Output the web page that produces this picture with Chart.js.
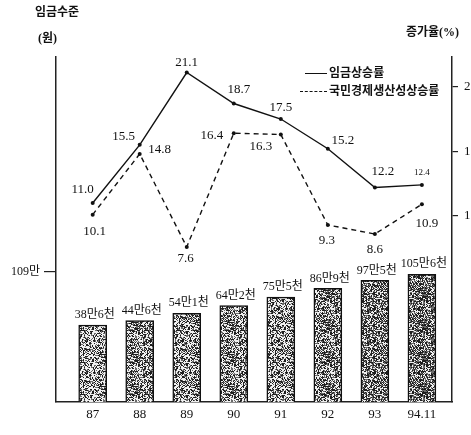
<!DOCTYPE html>
<html>
<head>
<meta charset="utf-8">
<script src="https://cdn.jsdelivr.net/npm/chart.js@4"></script>
<style>
  html, body { margin: 0; padding: 0; overflow: hidden; background: #fff; }
  #wrap { position: relative; width: 480px; height: 435px; }
  .txt { position: absolute; font-family: "Liberation Serif", "Noto Sans CJK KR", serif; color: #111; white-space: nowrap; line-height: 1; }
  .leg-line { position: absolute; height: 0; border-top: 1.5px solid #111; }
</style>
</head>
<body>
<div id="wrap">
  <canvas id="chart" width="480" height="435"></canvas>
  <div class="txt" style="left:35px;top:6px;font-size:12px;font-weight:bold;">임금수준</div>
  <div class="txt" style="left:38px;top:32px;font-size:12px;font-weight:bold;">(원)</div>
  <div class="txt" style="left:406px;top:26px;font-size:12px;font-weight:bold;">증가율(%)</div>
  <div id="legend"></div>
</div>
<script>
// data
var years = ['87', '88', '89', '90', '91', '92', '93', '94.11'];
var wageLevel = [38.6, 44.6, 54.1, 64.2, 75.5, 86.9, 97.5, 105.6]; // 만원
var wageGrowth = [11.0, 15.5, 21.1, 18.7, 17.5, 15.2, 12.2, 12.4];
var productivityGrowth = [10.1, 14.8, 7.6, 16.4, 16.3, 9.3, 8.6, 10.9];
var seriesNames = ['임금상승률', '국민경제생산성상승률'];
var levelTicks = [109];
var growthTicks = [10, 15, 20];

// axis ranges (broken axis in the original)
var levelMin = -63.1, levelMax = 392.6;
var growthMin = -4.4, growthMax = 22.3;

// label placement next to each point [dx, dy]
var wageLabelPos = [[-10, -13], [-16, -8], [0, -10], [5, -14], [0, -11], [15, -8], [8, -16], [0, -12]];
var prodLabelPos = [[2, 17], [20, -4], [-1, 12], [-22, 2], [-20, 12], [-1, 16], [0, 16], [5, 19]];

var FONT = '"Liberation Serif", "Noto Sans CJK KR", serif';

function levelText(v) {
  var man = Math.floor(v);
  var cheon = Math.round((v - man) * 10);
  return man + '만' + cheon + '천';
}

// speckled texture like the scanned bars
function texture(density) {
  var c = document.createElement('canvas');
  c.width = 32; c.height = 32;
  var g = c.getContext('2d');
  g.fillStyle = '#f0f0f0';
  g.fillRect(0, 0, 32, 32);
  for (var y = 0; y < 32; y++) {
    for (var x = 0; x < 32; x++) {
      var h = Math.imul(x + 31, 374761393) ^ Math.imul(y + 17, 668265263);
      h = Math.imul(h ^ (h >>> 13), 1274126177);
      var t = ((h ^ (h >>> 16)) >>> 0) % 1000 / 1000;
      if (t < density) {
        g.fillStyle = t < density * 0.6 ? '#1e1e1e' : '#6a6a6a';
        g.fillRect(x, y, 1, 1);
      }
    }
  }
  return g.createPattern(c, 'repeat');
}
var barDensity = [0.5, 0.58, 0.55, 0.58, 0.55, 0.62, 0.68, 0.7];

// value labels
var valueLabels = {
  id: 'valueLabels',
  afterDatasetsDraw: function(chart) {
    var ctx = chart.ctx;
    ctx.save();
    ctx.fillStyle = '#111';
    ctx.textAlign = 'center';
    ctx.textBaseline = 'middle';

    var bars = chart.getDatasetMeta(0).data;
    ctx.font = '12px ' + FONT;
    bars.forEach(function(el, i) {
      ctx.fillText(levelText(wageLevel[i]), el.x + 2, el.y - 10);
    });

    var wage = chart.getDatasetMeta(1).data;
    wage.forEach(function(el, i) {
      ctx.font = (i === wage.length - 1 ? '9px ' : '13px ') + FONT;
      ctx.fillText(wageGrowth[i].toFixed(1), el.x + wageLabelPos[i][0], el.y + wageLabelPos[i][1]);
    });

    var prod = chart.getDatasetMeta(2).data;
    ctx.font = '13px ' + FONT;
    prod.forEach(function(el, i) {
      ctx.fillText(productivityGrowth[i].toFixed(1), el.x + prodLabelPos[i][0], el.y + prodLabelPos[i][1]);
    });
    ctx.restore();
  }
};

var ctx = document.getElementById('chart').getContext('2d');
var chart = new Chart(ctx, {
  type: 'bar',
  data: {
    datasets: [{
      type: 'bar',
      label: '임금수준',
      data: wageLevel.map(function(v, i) { return { x: i, y: v }; }),
      yAxisID: 'y',
      base: levelMin,
      backgroundColor: barDensity.map(texture),
      borderColor: '#111',
      borderWidth: 1.5,
      barThickness: 28,
      order: 3
    }, {
      type: 'line',
      label: seriesNames[0],
      data: wageGrowth.map(function(v, i) { return { x: i, y: v }; }),
      yAxisID: 'y2',
      borderColor: '#111',
      borderWidth: 1.4,
      pointRadius: 2,
      pointBackgroundColor: '#111',
      pointBorderWidth: 0,
      tension: 0,
      order: 1
    }, {
      type: 'line',
      label: seriesNames[1],
      data: productivityGrowth.map(function(v, i) { return { x: i, y: v }; }),
      yAxisID: 'y2',
      borderColor: '#111',
      borderWidth: 1.4,
      borderDash: [5, 4],
      pointRadius: 2,
      pointBackgroundColor: '#111',
      pointBorderWidth: 0,
      tension: 0,
      order: 2
    }]
  },
  options: {
    responsive: false,
    animation: false,
    devicePixelRatio: 1,
    layout: { padding: { top: 57, left: 0, right: 0, bottom: 0 } },
    plugins: { legend: { display: false }, tooltip: { enabled: false } },
    scales: {
      x: {
        type: 'linear',
        offset: false,
        min: -0.78,
        max: 7.64,
        border: { display: true, color: '#222', width: 1.5 },
        grid: { drawOnChartArea: false, drawTicks: false },
        ticks: {
          color: '#111',
          font: { family: FONT, size: 13 },
          padding: 5,
          callback: function(v) { return years[v]; }
        },
        afterBuildTicks: function(axis) {
          axis.ticks = years.map(function(_, i) { return { value: i }; });
        },
        afterFit: function(scale) { scale.height = 33; }
      },
      y: {
        position: 'left',
        min: levelMin,
        max: levelMax,
        border: { display: true, color: '#222', width: 1.5 },
        grid: { drawOnChartArea: false, drawTicks: true, tickLength: 12, color: '#222', lineWidth: 1.2 },
        ticks: {
          color: '#111',
          font: { family: FONT, size: 12 },
          padding: 4,
          callback: function(v) { return v + '만'; }
        },
        afterBuildTicks: function(axis) {
          axis.ticks = levelTicks.map(function(v) { return { value: v }; });
        },
        afterFit: function(scale) { scale.width = 56; }
      },
      y2: {
        position: 'right',
        min: growthMin,
        max: growthMax,
        border: { display: true, color: '#222', width: 1.5 },
        grid: { drawOnChartArea: false, drawTicks: true, tickLength: 6, color: '#222', lineWidth: 1.2 },
        ticks: {
          color: '#111',
          font: { family: FONT, size: 13 },
          padding: 6,
          callback: function(v) { return String(v); }
        },
        afterBuildTicks: function(axis) {
          axis.ticks = growthTicks.map(function(v) { return { value: v }; });
        },
        afterFit: function(scale) { scale.width = 28; }
      }
    }
  },
  plugins: [valueLabels]
});

// legend, top right inside the plot
var legend = document.getElementById('legend');
var legendRows = [
  { top: 73, lineLeft: 305, width: 22, dash: false },
  { top: 91, lineLeft: 300, width: 27, dash: true }
];
seriesNames.forEach(function(name, i) {
  var r = legendRows[i];
  var line = document.createElement('div');
  line.className = 'leg-line';
  line.style.left = r.lineLeft + 'px';
  line.style.top = r.top + 'px';
  line.style.width = r.width + 'px';
  if (r.dash) line.style.borderTopStyle = 'dashed';
  legend.appendChild(line);
  var t = document.createElement('div');
  t.className = 'txt';
  t.style.left = '329px';
  t.style.top = (r.top - 6) + 'px';
  t.style.fontSize = '12px';
  t.style.fontWeight = 'bold';
  t.textContent = name;
  legend.appendChild(t);
});
</script>
</body>
</html>
